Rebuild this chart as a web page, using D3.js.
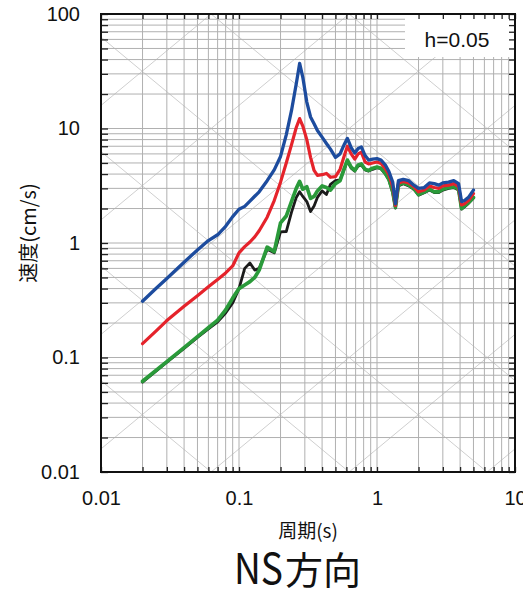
<!DOCTYPE html>
<html><head><meta charset="utf-8">
<script src="https://cdn.jsdelivr.net/npm/d3@7"></script>
<style>body{margin:0;background:#fff}svg{display:block}</style>
</head><body>
<svg id="c" width="523" height="592"></svg>
<script>
const periods = [0.02,0.025,0.03,0.04,0.05,0.06,0.07,0.08,0.09,0.1,0.11,0.12,0.13,0.14,0.16,0.18,0.2,0.22,0.24,0.26,0.275,0.29,0.31,0.33,0.35,0.37,0.4,0.43,0.46,0.5,0.54,0.58,0.61,0.65,0.69,0.73,0.77,0.82,0.87,0.93,1.0,1.07,1.15,1.22,1.3,1.36,1.43,1.55,1.7,1.85,2.0,2.2,2.4,2.6,2.8,3.0,3.3,3.6,3.9,4.1,4.3,4.6,5.0];
const blueValues = [0.31,0.40,0.49,0.68,0.87,1.05,1.18,1.4,1.7,1.97,2.09,2.32,2.56,2.8,3.5,4.35,5.7,8.8,14.3,24.6,37,28,17,12.6,11,9.6,8.4,7.4,6.6,5.6,6.0,7.3,8.2,6.8,6.1,6.7,6.9,5.8,5.3,5.4,5.45,5.3,4.8,4.2,3.4,2.2,3.5,3.6,3.5,3.2,3.0,3.05,3.35,3.3,3.2,3.35,3.4,3.5,3.3,2.3,2.35,2.5,2.9];
const redValues = [0.132,0.17,0.21,0.28,0.347,0.414,0.48,0.548,0.63,0.82,0.93,1.02,1.13,1.28,1.68,2.35,3.4,5.0,7.2,10.2,12.2,10.5,8.0,5.6,4.3,3.9,3.95,4.05,3.75,3.8,4.4,5.8,7.0,6.0,5.4,6.0,6.2,5.1,4.9,5.0,5.1,4.95,4.45,3.95,3.1,2.12,3.35,3.45,3.35,3.1,2.8,2.9,3.15,3.05,3.0,3.15,3.2,3.3,3.1,2.15,2.2,2.35,2.7];
const blackValues = [0.061,0.076,0.091,0.12,0.15,0.178,0.205,0.245,0.30,0.40,0.6,0.67,0.58,0.6,0.88,0.82,1.25,1.26,1.85,2.5,2.8,2.55,2.3,1.88,2.1,2.5,2.85,2.65,3.25,3.5,3.55,4.45,5.2,4.5,4.25,4.7,4.8,4.35,4.25,4.4,4.55,4.45,4.0,3.55,2.75,2.02,3.15,3.3,3.15,2.95,2.62,2.75,2.9,2.76,2.76,2.9,3.0,3.05,2.9,1.98,2.07,2.22,2.47];
const greenValues = [0.062,0.077,0.092,0.122,0.152,0.182,0.212,0.26,0.33,0.40,0.43,0.46,0.50,0.58,0.92,0.84,1.5,1.72,2.3,3.0,3.45,2.95,3.1,2.45,2.55,2.85,3.15,3.05,2.9,3.3,3.5,4.5,5.3,4.6,4.3,4.8,4.9,4.4,4.3,4.5,4.6,4.5,4.05,3.6,2.8,2.05,3.2,3.35,3.2,3.0,2.65,2.78,2.95,2.8,2.8,2.95,3.05,3.1,2.95,2.0,2.1,2.25,2.5];
const xTickLabels = ["0.01","0.1","1","10"];
const yTickLabels = ["0.01","0.1","1","10","100"];
const dampingLabel = "h=0.05";
const xTitle = "周期(s)";
const yTitle = "速度(cm/s)";
const titleLatin = "NS";
const titleCJK = "方向";

const L=101,R=515,T=14,B=472;
const svg=d3.select("#c");
const x=d3.scaleLog().domain([0.01,10]).range([L,R]);
const y=d3.scaleLog().domain([0.01,100]).range([B,T]);
const numFont="'Liberation Sans', Arial, sans-serif";
const cjkFont="'Noto Sans CJK JP', 'Liberation Sans', sans-serif";

svg.append("defs").append("clipPath").attr("id","clip").append("rect")
  .attr("x",L).attr("y",T).attr("width",R-L).attr("height",B-T);

const g=svg.append("g").attr("clip-path","url(#clip)");
const diag=g.append("g").attr("stroke","#cfcfcf").attr("stroke-width",1);
const tp=2*Math.PI;
for(let k=-3;k<=5;k++){
  const A=Math.pow(10,k);
  diag.append("line").attr("x1",x(0.01)).attr("y1",y(A*0.01/tp)).attr("x2",x(10)).attr("y2",y(A*10/tp));
}
for(let k=-5;k<=3;k++){
  const D=Math.pow(10,k);
  diag.append("line").attr("x1",x(0.01)).attr("y1",y(tp*D/0.01)).attr("x2",x(10)).attr("y2",y(tp*D/10));
}
const grid=g.append("g").attr("stroke","#b0b0b0").attr("stroke-width",1);
x.ticks().forEach(t=>grid.append("line").attr("x1",x(t)).attr("x2",x(t)).attr("y1",T).attr("y2",B));
y.ticks().forEach(t=>grid.append("line").attr("y1",y(t)).attr("y2",y(t)).attr("x1",L).attr("x2",R));

svg.append("rect").attr("x",405).attr("y",T).attr("width",R-405).attr("height",43).attr("fill","#fff");
svg.append("text").attr("x",457).attr("y",47).attr("text-anchor","middle")
  .attr("font-family",numFont).attr("font-size",21).attr("fill","#111").text(dampingLabel);

const lab=arr=>d=>{const s=String(+d.toPrecision(3));return arr.includes(s)?s:"";};
const ax=svg.append("g").attr("transform",`translate(0,${B})`).call(d3.axisBottom(x).tickSizeInner(-5).tickSizeOuter(0).tickPadding(19).tickFormat(lab(xTickLabels)));
const ay=svg.append("g").attr("transform",`translate(${L},0)`).call(d3.axisLeft(y).tickSizeInner(-7).tickSizeOuter(0).tickPadding(21).tickFormat(lab(yTickLabels)));
const axt=svg.append("g").attr("transform",`translate(0,${T})`).call(d3.axisTop(x).tickSizeInner(-5).tickSizeOuter(0).tickFormat(""));
const ayr=svg.append("g").attr("transform",`translate(${R},0)`).call(d3.axisRight(y).tickSizeInner(-6).tickSizeOuter(0).tickFormat(""));
[ax,ay,axt,ayr].forEach(a=>{a.select(".domain").remove();a.selectAll("line").attr("stroke","#222").attr("stroke-width",1.3);
  a.selectAll("text").attr("font-family",numFont).attr("font-size",20).attr("fill","#111");});

const line=d3.line().x(d=>x(d[0])).y(d=>y(d[1]));
const series=[
  {v:blackValues,c:"#1b1b1b",w:2.8},
  {v:greenValues,c:"#2a9a3a",w:3.7},
  {v:redValues,c:"#e5232b",w:3.2},
  {v:blueValues,c:"#1d4c9e",w:3.3}
];
const cg=svg.append("g").attr("clip-path","url(#clip)");
series.forEach(s=>{
  cg.append("path").datum(periods.map((p,i)=>[p,s.v[i]])).attr("d",line)
    .attr("fill","none").attr("stroke",s.c).attr("stroke-width",s.w)
    .attr("stroke-linejoin","round").attr("stroke-linecap","round");
});

svg.append("rect").attr("x",L).attr("y",T).attr("width",R-L).attr("height",B-T)
  .attr("fill","none").attr("stroke","#111").attr("stroke-width",2);

svg.append("text").attr("x",(L+R)/2).attr("y",538).attr("text-anchor","middle")
  .attr("font-family",cjkFont).attr("font-size",19).attr("fill","#111").text(xTitle);
svg.append("text").attr("transform","translate(36,233) rotate(-90)").attr("text-anchor","middle")
  .attr("font-family",cjkFont).attr("font-size",20).attr("fill","#111").text(yTitle);
svg.append("text").attr("x",234).attr("y",584).attr("textLength",49).attr("lengthAdjust","spacingAndGlyphs")
  .attr("font-family",cjkFont).attr("font-size",42).attr("fill","#111").text(titleLatin);
svg.append("text").attr("x",285).attr("y",584)
  .attr("font-family",cjkFont).attr("font-size",38).attr("fill","#111").text(titleCJK);
</script>
</body></html>
